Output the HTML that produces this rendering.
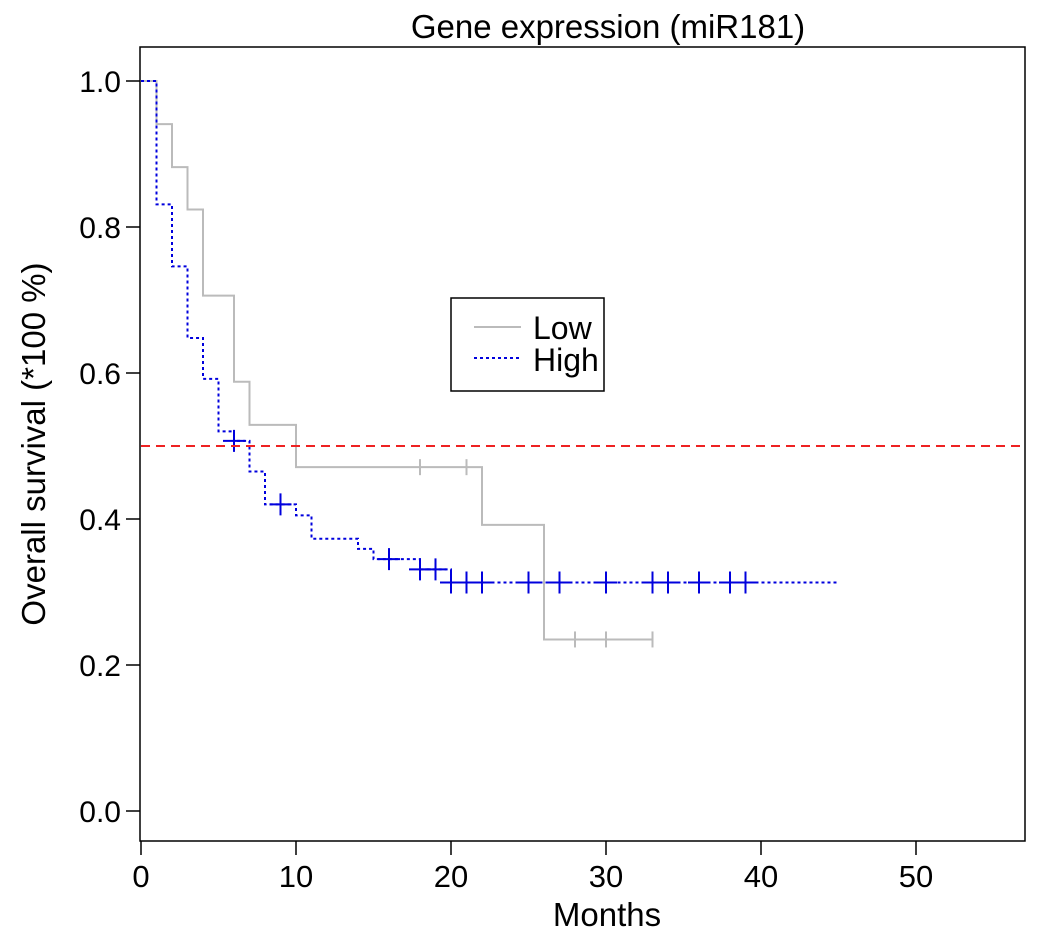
<!DOCTYPE html>
<html><head><meta charset="utf-8">
<style>
html,body{margin:0;padding:0;background:#fff;}
svg{display:block;font-family:"Liberation Sans",Arial,sans-serif;}
</style></head>
<body>
<svg id="chart" width="1038" height="935" viewBox="0 0 1038 935">
<text x="608" y="38" font-size="33" text-anchor="middle">Gene expression (miR181)</text>
<rect x="140" y="47" width="885" height="794" fill="none" stroke="#000" stroke-width="1.5"/>
<g id="xaxis"></g>
<g id="yaxis"></g>
<text x="607" y="926" font-size="33" text-anchor="middle">Months</text>
<text transform="translate(45,444) rotate(-90)" font-size="33" text-anchor="middle">Overall survival (*100 %)</text>
<g id="series"></g>
<g>
<rect x="451" y="298" width="153" height="93" fill="#fff" stroke="#000" stroke-width="1.5"/>
<line x1="474" y1="327" x2="521" y2="327" stroke="#bbb" stroke-width="2"/>
<text x="533" y="339" font-size="32">Low</text>
<line x1="474" y1="358" x2="521" y2="358" stroke="#0000dd" stroke-width="2" stroke-dasharray="3,3"/>
<text x="533" y="371" font-size="32">High</text>
</g>
</svg>
<script>
const xTicks=[0,10,20,30,40,50];
const yTicks=[0.0,0.2,0.4,0.6,0.8,1.0];
const lowTimes=[0,1,2,3,4,6,7,10,22,26];
const lowSurv=[1,0.941,0.882,0.824,0.706,0.588,0.529,0.471,0.392,0.235];
const lowEnd=33;
const lowCensor=[18,21,28,30,33];
const highTimes=[0,1,2,3,4,5,6,7,8,10,11,14,15,18,20];
const highSurv=[1,0.831,0.746,0.648,0.592,0.52,0.507,0.465,0.42,0.405,0.373,0.359,0.345,0.331,0.313];
const highEnd=45;
const highCensor=[6,9,16,18,19,20,21,22,25,27,30,33,34,36,38,39];
const medianLine=0.5;

const NS="http://www.w3.org/2000/svg";
const X=t=>141+t*15.5;
const Y=s=>811-s*730;
function mk(tag,attrs,parent){const e=document.createElementNS(NS,tag);for(const k in attrs)e.setAttribute(k,attrs[k]);parent.appendChild(e);return e;}
const xa=document.getElementById('xaxis'),ya=document.getElementById('yaxis'),sg=document.getElementById('series');
xTicks.forEach(t=>{
  const l=mk('line',{x1:X(t),x2:X(t),y1:841,y2:855,stroke:'#000','stroke-width':1.5},xa);
  
  
  const tx=mk('text',{x:X(t),y:887,'font-size':31,'text-anchor':'middle'},xa);
  tx.textContent=String(t);
  
  
});
yTicks.forEach(v=>{
  const l=mk('line',{x1:126,x2:140,y1:Y(v),y2:Y(v),stroke:'#000','stroke-width':1.5},ya);
  
  
  const tx=mk('text',{x:121,y:Y(v)+11,'font-size':30,'text-anchor':'end'},ya);
  tx.textContent=v.toFixed(1);
  
  
});
function stepAt(times,surv,t){let s=surv[0];for(let i=0;i<times.length;i++){if(times[i]<=t)s=surv[i];}return s;}
function curve(times,surv,end,censor,color,dash,name,ch){
  let d='M'+X(times[0])+','+Y(surv[0]);
  for(let i=1;i<times.length;i++){d+=' H'+X(times[i])+' V'+Y(surv[i]);}
  d+=' H'+X(end);
  const p=mk('path',{d:d,fill:'none',stroke:color,'stroke-width':2},sg);
  if(dash)p.setAttribute('stroke-dasharray',dash);
  
  
  censor.forEach(t=>{
    const s=stepAt(times,surv,t);
    const g=mk('path',{d:'M'+X(t)+','+(Y(s)-ch)+' V'+(Y(s)+ch)+(name==='high'?' M'+(X(t)-11)+','+Y(s)+' H'+(X(t)+11):''),stroke:color,'stroke-width':2,fill:'none'},sg);
    
    
  });
}
curve(lowTimes,lowSurv,lowEnd,lowCensor,'#bbbbbb',null,'low',8);
curve(highTimes,highSurv,highEnd,highCensor,'#0000dd','3,3','high',11);
const ml=mk('line',{x1:141,x2:1025,y1:Y(medianLine),y2:Y(medianLine),stroke:'#ee2222','stroke-width':2,'stroke-dasharray':'9,6'},sg);


</script>
</body></html>
